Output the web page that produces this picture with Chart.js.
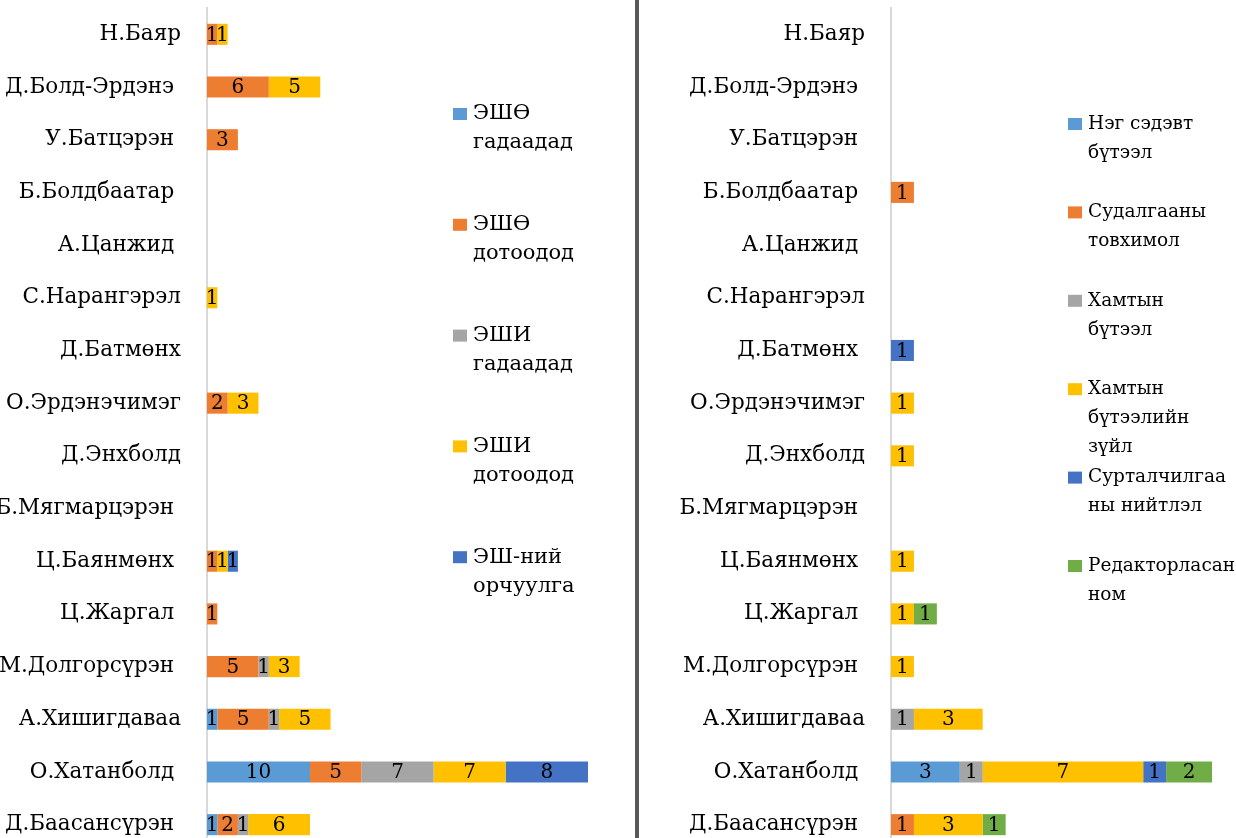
<!DOCTYPE html>
<html>
<head>
<meta charset="utf-8">
<script src="https://cdn.jsdelivr.net/npm/chart.js@4.4.1/dist/chart.umd.min.js"></script>
<style>
  html, body { margin: 0; padding: 0; background: #fff; overflow: hidden; }
  body { width: 1236px; height: 838px; position: relative; }
  #leftBox { position: absolute; left: -40px; top: 0; width: 677px; height: 851px; }
  #rightBox { position: absolute; left: 640px; top: 0; width: 596px; height: 851px; }
  #sep { position: absolute; left: 635px; top: 0; width: 4px; height: 838px; background: #595959; }
</style>
</head>
<body>
<div id="leftBox"><canvas id="leftChart"></canvas></div>
<div id="sep"></div>
<div id="rightBox"><canvas id="rightChart"></canvas></div>
<script>
// names (trailing spaces kept as in the source labels)
const namesLeft = ["Н.Баяр", "Д.Болд-Эрдэнэ ", "У.Батцэрэн ", "Б.Болдбаатар ", "А.Цанжид ", "С.Нарангэрэл",
  "Д.Батмөнх", "О.Эрдэнэчимэг", "Д.Энхболд", "Б.Мягмарцэрэн ", "Ц.Баянмөнх ", "Ц.Жаргал ",
  "М.Долгорсүрэн ", "А.Хишигдаваа", "О.Хатанболд ", "Д.Баасансүрэн "];
const namesRight = ["Н.Баяр", "Д.Болд-Эрдэнэ ", "У.Батцэрэн ", "Б.Болдбаатар ", "А.Цанжид ", "С.Нарангэрэл",
  "Д.Батмөнх ", "О.Эрдэнэчимэг", "Д.Энхболд", "Б.Мягмарцэрэн ", "Ц.Баянмөнх ", "Ц.Жаргал ",
  "М.Долгорсүрэн ", "А.Хишигдаваа", "О.Хатанболд ", "Д.Баасансүрэн "];

// left chart series
const eshoForeign  = [0, 0, 0, 0, 0, 0, 0, 0, 0, 0, 0, 0, 0, 1, 10, 1];
const eshoDomestic = [1, 6, 3, 0, 0, 0, 0, 2, 0, 0, 1, 1, 5, 5, 5, 2];
const eshiForeign  = [0, 0, 0, 0, 0, 0, 0, 0, 0, 0, 0, 0, 1, 1, 7, 1];
const eshiDomestic = [1, 5, 0, 0, 0, 1, 0, 3, 0, 0, 1, 0, 3, 5, 7, 6];
const translation  = [0, 0, 0, 0, 0, 0, 0, 0, 0, 0, 1, 0, 0, 0, 8, 0];

// right chart series
const monograph   = [0, 0, 0, 0, 0, 0, 0, 0, 0, 0, 0, 0, 0, 0, 3, 0];
const booklet     = [0, 0, 0, 1, 0, 0, 0, 0, 0, 0, 0, 0, 0, 0, 0, 1];
const jointWork   = [0, 0, 0, 0, 0, 0, 0, 0, 0, 0, 0, 0, 0, 1, 1, 0];
const jointItem   = [0, 0, 0, 0, 0, 0, 0, 1, 1, 0, 1, 1, 1, 3, 7, 3];
const promo       = [0, 0, 0, 0, 0, 0, 1, 0, 0, 0, 0, 0, 0, 0, 1, 0];
const edited      = [0, 0, 0, 0, 0, 0, 0, 0, 0, 0, 0, 1, 0, 0, 2, 1];

const leftLabels = [["ЭШӨ", "гадаадад"], ["ЭШӨ", "дотоодод"], ["ЭШИ", "гадаадад"], ["ЭШИ", "дотоодод"], ["ЭШ-ний", "орчуулга"]];
const rightLabels = [["Нэг сэдэвт", "бүтээл"], ["Судалгааны", "товхимол"], ["Хамтын", "бүтээл"],
  ["Хамтын", "бүтээлийн", "зүйл"], ["Сурталчилгаа", "ны нийтлэл"], ["Редакторласан", "ном"]];

const colors = ["#5B9BD5", "#ED7D31", "#A5A5A5", "#FFC000", "#4472C4", "#70AD47"];
const FONT = "'DejaVu Serif', 'Liberation Serif', serif";

// values written in the middle of each segment
const valueLabels = {
  id: "valueLabels",
  afterDatasetsDraw(chart) {
    const ctx = chart.ctx;
    ctx.save();
    ctx.font = "20px " + FONT;
    ctx.fillStyle = "#000";
    ctx.textAlign = "center";
    ctx.textBaseline = "middle";
    chart.data.datasets.forEach((ds, i) => {
      chart.getDatasetMeta(i).data.forEach((bar, j) => {
        const v = ds.data[j];
        if (!v) return;
        ctx.fillText(String(v), (bar.x + bar.base) / 2, bar.y + 1);
      });
    });
    ctx.restore();
  }
};

// legend with wrapped text, placed on the right of each panel
const sideLegend = {
  id: "sideLegend",
  afterDraw(chart, args, opts) {
    const ctx = chart.ctx;
    ctx.save();
    ctx.font = opts.size + "px " + FONT;
    ctx.textBaseline = "middle";
    ctx.textAlign = "left";
    chart.data.datasets.forEach((ds, i) => {
      const cy = opts.y0 + i * opts.step;
      ctx.fillStyle = ds.backgroundColor;
      ctx.fillRect(opts.x, cy - 6, 14, 12);
      ctx.fillStyle = "#000";
      ds.legendText.forEach((line, k) => {
        ctx.fillText(line, opts.x + 20, cy + k * opts.lineH);
      });
    });
    ctx.restore();
  }
};

function makeChart(id, names, series, labels, xMax, axisW, padRight, legend) {
  return new Chart(document.getElementById(id), {
    type: "bar",
    data: {
      labels: names,
      datasets: series.map((s, i) => ({
        label: labels[i].join(" "),
        legendText: labels[i],
        data: s,
        backgroundColor: colors[i],
        borderWidth: 0,
        barPercentage: 0.4,
        categoryPercentage: 1
      }))
    },
    options: {
      indexAxis: "y",
      responsive: true,
      maintainAspectRatio: false,
      animation: false,
      layout: { padding: { left: 0, right: padRight, top: 8, bottom: 0 } },
      plugins: {
        legend: { display: false },
        tooltip: { enabled: false },
        sideLegend: legend
      },
      scales: {
        x: { stacked: true, display: false, min: 0, max: xMax },
        y: {
          stacked: true,
          afterFit(scale) {
            scale.width = axisW;
            scale.paddingTop = 0;
            scale.paddingBottom = 0;
          },
          grid: { display: false, drawTicks: false },
          border: { display: true, color: "#d9d9d9", width: 2 },
          ticks: { color: "#000", padding: 26, font: { family: FONT, size: 21.5 } }
        }
      }
    },
    plugins: [valueLabels, sideLegend]
  });
}

makeChart("leftChart", namesLeft,
  [eshoForeign, eshoDomestic, eshiForeign, eshiDomestic, translation],
  leftLabels, 37, 247, 49,
  { x: 493, y0: 114, step: 110.8, lineH: 29, size: 21 });

makeChart("rightChart", namesRight,
  [monograph, booklet, jointWork, jointItem, promo, edited],
  rightLabels, 14, 251, 24,
  { x: 428, y0: 124, step: 88.4, lineH: 29, size: 18.5 });
</script>
</body>
</html>
